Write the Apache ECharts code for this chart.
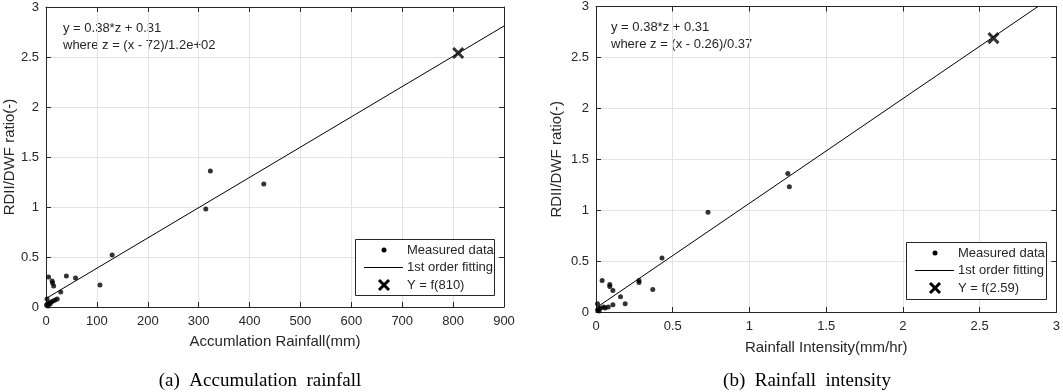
<!DOCTYPE html>
<html>
<head>
<meta charset="utf-8">
<script src="https://cdn.jsdelivr.net/npm/echarts@6/dist/echarts.min.js"></script>
<style>
html,body{margin:0;padding:0;background:#fff;}
#c{width:1063px;height:392px;}
</style>
</head>
<body>
<div id="c"></div>
<script>
// ---- Data ----
const accumMeasured = [
  [323,1.36],[428,1.23],[314,0.98],[130,0.52],[106,0.22],[58,0.29],[40,0.31],
  [5,0.30],[12,0.26],[13,0.24],[15,0.21],[29,0.15],[22,0.08],[18,0.07],[14,0.06],
  [10,0.05],[6,0.04],[3,0.03],[2,0.08],[1,0.02],[4,0.01],[8,0.03]
];
const accumFitX = [0, 900];
const accumFitY = [0.085, 2.81];
const accumPredict = [[810, 2.54]];

const intensMeasured = [
  [1.25,1.36],[1.26,1.23],[0.73,0.98],[0.43,0.53],[0.04,0.31],[0.28,0.31],[0.28,0.29],
  [0.09,0.27],[0.09,0.25],[0.11,0.21],[0.37,0.22],[0.16,0.15],[0.19,0.08],[0.11,0.07],
  [0.08,0.05],[0.05,0.05],[0.03,0.04],[0.02,0.03],[0.01,0.08],[0.01,0.02],[0.02,0.01],[0.06,0.04]
];
const intensFitX = [0, 2.88];
const intensFitY = [0.04, 3.0];
const intensPredict = [[2.59, 2.69]];

const yTicks = [0, 0.5, 1, 1.5, 2, 2.5, 3];
const accumXTicks = [0,100,200,300,400,500,600,700,800,900];
const intensXTicks = [0,0.5,1,1.5,2,2.5,3];

const texts = {
  yName: 'RDII/DWF ratio(-)',
  accumXName: 'Accumlation Rainfall(mm)',
  intensXName: 'Rainfall Intensity(mm/hr)',
  accumEq1: 'y = 0.38*z + 0.31',
  accumEq2: 'where z = (x - 72)/1.2e+02',
  intensEq1: 'y = 0.38*z + 0.31',
  intensEq2: 'where z = (x - 0.26)/0.37',
  legMeasured: 'Measured data',
  legFit: '1st order fitting',
  accumLegX: 'Y = f(810)',
  intensLegX: 'Y = f(2.59)',
  capA: '(a)  Accumulation  rainfall',
  capB: '(b)  Rainfall  intensity'
};

// ---- Chart ----
const FONT = '"Liberation Sans", Arial, sans-serif';
const TXT = '#262626';
const XPATH = 'path://M0,0L10,10M10,0L0,10';

function fitPairs(xs, ys){ return xs.map((x,i)=>[x, ys[i]]); }

function mainX(grid, ticks, name, gap){
  return {
    type:'value', gridIndex:grid, position:'bottom',
    min:ticks[0], max:ticks[ticks.length-1], interval:ticks[1]-ticks[0],
    name:name, nameLocation:'middle', nameGap:gap,
    nameTextStyle:{fontFamily:FONT, fontSize:15, color:TXT},
    axisLine:{show:true, onZero:false, lineStyle:{color:'#262626', width:1}},
    axisTick:{show:true, inside:true, length:5, lineStyle:{color:'#262626'}},
    axisLabel:{fontFamily:FONT, fontSize:13, color:TXT, margin:8},
    splitLine:{show:true, lineStyle:{color:'#e3e3e3', width:1}}
  };
}
function sideX(grid, ticks){
  return {
    type:'value', gridIndex:grid, position:'top',
    min:ticks[0], max:ticks[ticks.length-1], interval:ticks[1]-ticks[0],
    axisLine:{show:true, onZero:false, lineStyle:{color:'#262626', width:1}},
    axisTick:{show:true, inside:true, length:5, lineStyle:{color:'#262626'}},
    axisLabel:{show:false}, splitLine:{show:false}
  };
}
function mainY(grid, gap){
  return {
    type:'value', gridIndex:grid, position:'left',
    min:yTicks[0], max:yTicks[yTicks.length-1], interval:yTicks[1]-yTicks[0],
    name:texts.yName, nameLocation:'middle', nameGap:gap, nameRotate:90,
    nameTextStyle:{fontFamily:FONT, fontSize:15, color:TXT},
    axisLine:{show:true, onZero:false, lineStyle:{color:'#262626', width:1}},
    axisTick:{show:true, inside:true, length:5, lineStyle:{color:'#262626'}},
    axisLabel:{fontFamily:FONT, fontSize:13, color:TXT, margin:7,
      formatter:v=>String(v)},
    splitLine:{show:true, lineStyle:{color:'#e3e3e3', width:1}}
  };
}
function sideY(grid){
  return {
    type:'value', gridIndex:grid, position:'right',
    min:yTicks[0], max:yTicks[yTicks.length-1], interval:yTicks[1]-yTicks[0],
    axisLine:{show:true, onZero:false, lineStyle:{color:'#262626', width:1}},
    axisTick:{show:true, inside:true, length:5, lineStyle:{color:'#262626'}},
    axisLabel:{show:false}, splitLine:{show:false}
  };
}

function legendGroup(x, y, w, h, xLabel){
  const cx = x + 29, tx = x + 52;
  const r1 = y + 11, r2 = y + 28.5, r3 = y + 46;
  const ts = {fontFamily:FONT, fontSize:13, fill:TXT, textVerticalAlign:'middle'};
  return [
    {type:'rect', shape:{x:x+0.5, y:y+0.5, width:w, height:h}, style:{fill:'#fff', stroke:'#262626', lineWidth:1}, z:50},
    {type:'circle', shape:{cx:cx, cy:r1, r:2.5}, style:{fill:'#000'}, z:51},
    {type:'line', shape:{x1:x+9, y1:r2, x2:x+48, y2:r2}, style:{stroke:'#000', lineWidth:1}, z:51},
    {type:'polyline', shape:{points:[[cx-5,r3-5],[cx+5,r3+5]]}, style:{stroke:'#000', lineWidth:3, fill:null}, z:51},
    {type:'polyline', shape:{points:[[cx+5,r3-5],[cx-5,r3+5]]}, style:{stroke:'#000', lineWidth:3, fill:null}, z:51},
    {type:'text', x:tx, y:r1, style:Object.assign({text:texts.legMeasured}, ts), z:51},
    {type:'text', x:tx, y:r2, style:Object.assign({text:texts.legFit}, ts), z:51},
    {type:'text', x:tx, y:r3, style:Object.assign({text:xLabel}, ts), z:51}
  ];
}

const eqStyle = {fontFamily:FONT, fontSize:13, fill:TXT, textVerticalAlign:'middle'};
const capStyle = {fontFamily:'"Liberation Serif", "Times New Roman", serif', fontSize:19, fill:'#000', textAlign:'center', textVerticalAlign:'middle'};

const option = {
  backgroundColor:'#fff',
  animation:false,
  grid:[
    {left:46, top:7, width:458, height:300, containLabel:false},
    {left:596, top:6, width:461, height:306, containLabel:false}
  ],
  xAxis:[
    mainX(0, accumXTicks, texts.accumXName, 27),
    sideX(0, accumXTicks),
    mainX(1, intensXTicks, texts.intensXName, 28),
    sideX(1, intensXTicks)
  ],
  yAxis:[
    mainY(0, 27), sideY(0), mainY(1, 32), sideY(1)
  ],
  series:[
    {type:'line', xAxisIndex:0, yAxisIndex:0, data:fitPairs(accumFitX, accumFitY), symbol:'none',
      lineStyle:{color:'#000', width:1}, z:3},
    {type:'scatter', xAxisIndex:0, yAxisIndex:0, data:accumMeasured, symbol:'circle', symbolSize:5,
      itemStyle:{color:'#000'}, z:4},
    {type:'scatter', xAxisIndex:0, yAxisIndex:0, data:accumPredict, symbol:XPATH, symbolSize:10,
      itemStyle:{color:'none', borderColor:'#000', borderWidth:3}, z:5},
    {type:'line', xAxisIndex:2, yAxisIndex:2, data:fitPairs(intensFitX, intensFitY), symbol:'none',
      lineStyle:{color:'#000', width:1}, z:3},
    {type:'scatter', xAxisIndex:2, yAxisIndex:2, data:intensMeasured, symbol:'circle', symbolSize:5,
      itemStyle:{color:'#000'}, z:4},
    {type:'scatter', xAxisIndex:2, yAxisIndex:2, data:intensPredict, symbol:XPATH, symbolSize:10,
      itemStyle:{color:'none', borderColor:'#000', borderWidth:3}, z:5}
  ],
  graphic:[
    {type:'text', x:63, y:28, style:Object.assign({text:texts.accumEq1}, eqStyle)},
    {type:'text', x:63, y:45, style:Object.assign({text:texts.accumEq2}, eqStyle)},
    {type:'text', x:611, y:27, style:Object.assign({text:texts.intensEq1}, eqStyle)},
    {type:'text', x:611, y:44, style:Object.assign({text:texts.intensEq2}, eqStyle)},
    {type:'text', x:260, y:381, style:Object.assign({text:texts.capA}, capStyle)},
    {type:'text', x:807, y:381, style:Object.assign({text:texts.capB}, capStyle)}
  ].concat(legendGroup(355, 239, 139, 56, texts.accumLegX))
   .concat(legendGroup(906, 242, 140, 57, texts.intensLegX))
};

const chart = echarts.init(document.getElementById('c'), null, {renderer:'canvas'});
chart.setOption(option);
</script>
</body>
</html>
